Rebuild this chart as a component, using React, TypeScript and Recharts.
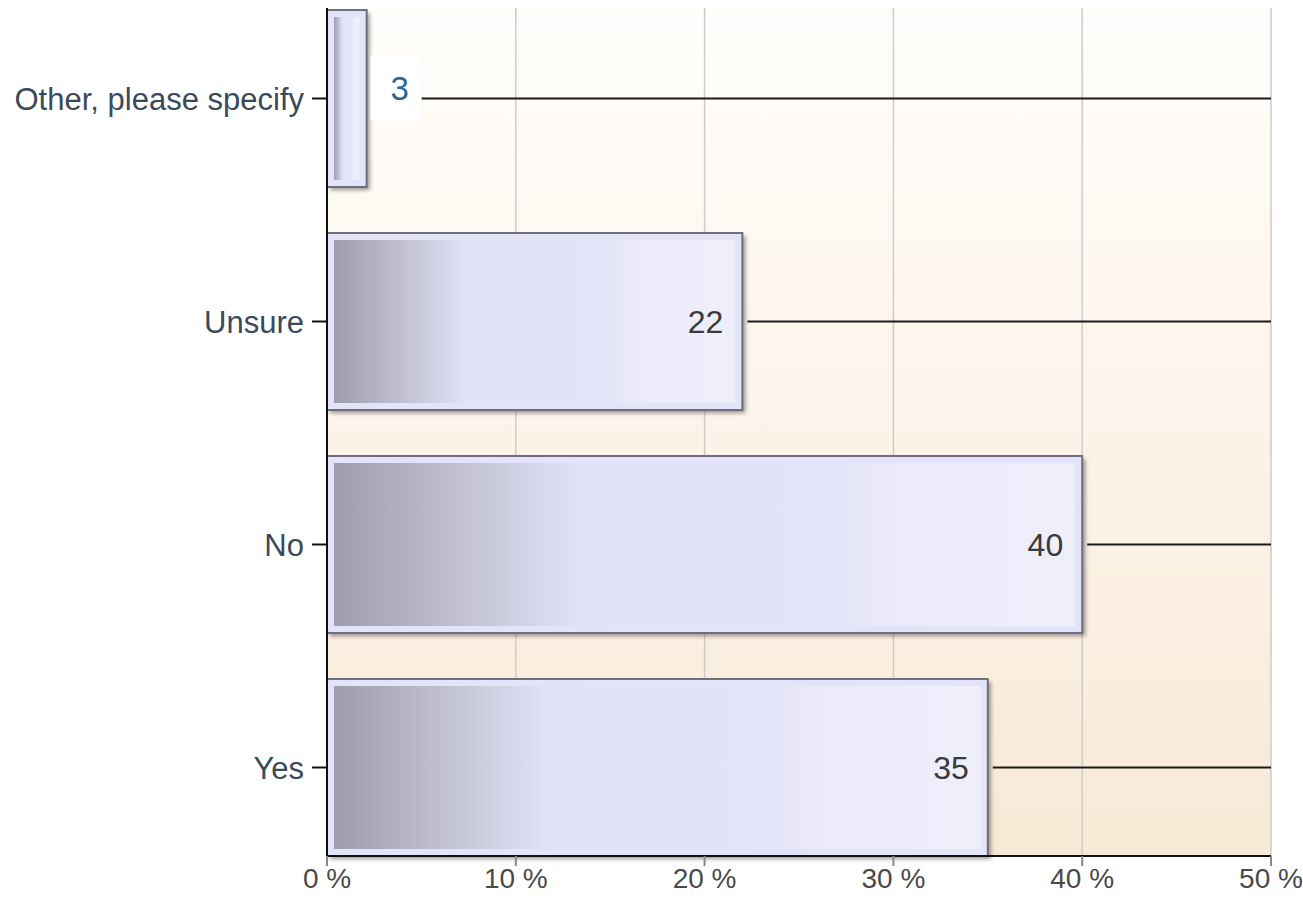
import React from "react";
import { BarChart, Bar, XAxis, YAxis, CartesianGrid, LabelList } from "recharts";

const CATEGORIES = ["Other, please specify", "Unsure", "No", "Yes"];
const SHARES = [2.1, 22, 40, 35];
const LABELS = ["3", "22", "40", "35"];
const X_TICKS = [0, 10, 20, 30, 40, 50];
const X_MAX = 50;

const data = CATEGORIES.map((name, i) => ({ name, share: SHARES[i], label: LABELS[i] }));

const FONT = "'Liberation Sans', Arial, sans-serif";

function BarShape(props: any) {
    const { x, y, width, height } = props;
    if (!width || width <= 0) return null;
    return (
        <g>
            <rect x={x + 3} y={y + 3} width={width} height={height} fill="#000" opacity={0.4} filter="url(#barShadow)" />
            <rect x={x} y={y} width={width} height={height} fill="#e4e4f8" stroke="#6e6e80" strokeWidth={2} />
            <rect x={x + 7} y={y + 7} width={Math.max(width - 14, 0)} height={height - 14} fill="url(#barFill)" />
        </g>
    );
}

function ValueLabel(props: any) {
    const { x, y, width, height, index, value } = props;
    const share = SHARES[index];
    const endX = x + width * (X_MAX / share);
    const cy = y + height / 2;

    if (width > 80) {
        return (
            <g>
                <text x={x + width - 19} y={cy} textAnchor="end" dominantBaseline="central" fontSize={32} fontFamily={FONT} fill="#3a3a3a">
                    {value}
                </text>
                <line x1={x + width + 5} y1={cy} x2={endX} y2={cy} stroke="#1a1a1a" strokeWidth={2} />
            </g>
        );
    }

    // small bar: label sits outside on a white box
    const boxX = x + width + 4;
    return (
        <g>
            <rect x={boxX} y={cy - 43} width={51} height={65} fill="#ffffff" />
            <text x={boxX + 29} y={cy - 10} textAnchor="middle" dominantBaseline="central" fontSize={33} fontFamily={FONT} fill="#2b6794">
                {value}
            </text>
            <line x1={boxX + 51} y1={cy} x2={endX} y2={cy} stroke="#1a1a1a" strokeWidth={2} />
        </g>
    );
}

export default function App() {
    return (
        <div style={{ position: "absolute", left: 0, top: 0, background: "#fff" }}>
            <BarChart
                width={1303}
                height={904}
                data={data}
                layout="vertical"
                margin={{ top: 8, right: 32, bottom: 0, left: 0 }}
            >
                <defs>
                    <linearGradient id="plotBg" x1="0" y1="0" x2="0" y2="1">
                        <stop offset="0%" stopColor="#fffefc" />
                        <stop offset="100%" stopColor="#f8e9d6" />
                    </linearGradient>
                    <linearGradient id="barFill" x1="0" y1="0" x2="1" y2="0">
                        <stop offset="0%" stopColor="#9e9dae" />
                        <stop offset="33%" stopColor="#e2e2f6" />
                        <stop offset="68%" stopColor="#e4e4f8" />
                        <stop offset="74%" stopColor="#eaeafa" />
                        <stop offset="100%" stopColor="#efeffc" />
                    </linearGradient>
                    <filter id="barShadow" x="-20%" y="-20%" width="140%" height="140%">
                        <feGaussianBlur stdDeviation="2" />
                    </filter>
                </defs>
                <CartesianGrid horizontal={false} stroke="#cfcbc6" strokeWidth={1.5} fill="url(#plotBg)" />
                <XAxis
                    type="number"
                    domain={[0, X_MAX]}
                    ticks={X_TICKS}
                    tickFormatter={(v) => `${v} %`}
                    height={48}
                    axisLine={{ stroke: "#111", strokeWidth: 2 }}
                    tickLine={{ stroke: "#888", strokeWidth: 2 }}
                    tickSize={10}
                    tick={{ fontSize: 28, fontFamily: FONT, fill: "#4a4a4a" }}
                />
                <YAxis
                    type="category"
                    dataKey="name"
                    width={327}
                    padding={{ top: -21, bottom: -23 }}
                    axisLine={{ stroke: "#111", strokeWidth: 2 }}
                    tickLine={{ stroke: "#111", strokeWidth: 2 }}
                    tickSize={15}
                    tickMargin={8}
                    tick={{ fontSize: 31, fontFamily: FONT, fill: "#3b4a5a" }}
                />
                <Bar dataKey="share" barSize={177} shape={BarShape} isAnimationActive={false}>
                    <LabelList dataKey="label" content={ValueLabel} />
                </Bar>
            </BarChart>
        </div>
    );
}
